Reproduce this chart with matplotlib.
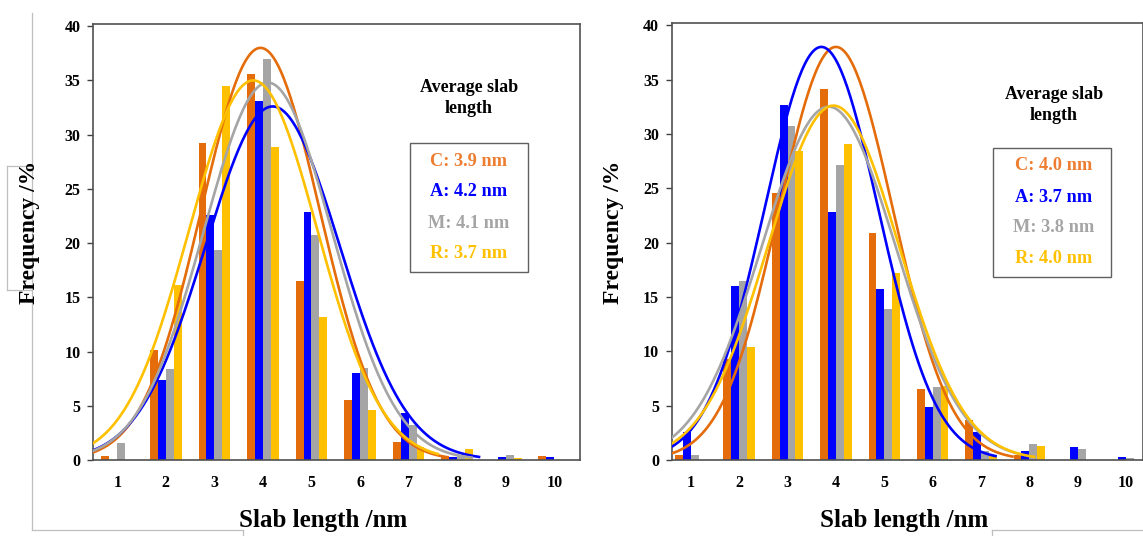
import numpy as np
import matplotlib
matplotlib.use("Agg")
import matplotlib.pyplot as plt
from matplotlib.lines import Line2D

plt.rcParams['font.family'] = ['Liberation Serif', 'DejaVu Serif']
plt.rcParams['font.weight'] = 'bold'

# slab length classes (nm)
classes = [1, 2, 3, 4, 5, 6, 7, 8, 9, 10]
series = ["C", "A", "M", "R"]

# left panel, frequency in %
left_C = [0.4, 10.1, 29.2, 35.6, 16.5, 5.5, 1.7, 0.4, 0.0, 0.4]
left_A = [0.0, 7.4, 22.6, 33.1, 22.9, 8.0, 4.3, 0.3, 0.3, 0.3]
left_M = [1.6, 8.4, 19.4, 37.0, 20.7, 8.5, 3.2, 0.5, 0.5, 0.0]
left_R = [0.0, 16.1, 34.5, 28.9, 13.2, 4.6, 1.2, 1.0, 0.2, 0.0]

# right panel, frequency in %
right_C = [0.45, 9.3, 24.6, 34.1, 20.9, 6.5, 3.7, 0.5, 0.0, 0.0]
right_A = [2.6, 16.0, 32.7, 22.8, 15.7, 4.9, 2.6, 0.8, 1.2, 0.3]
right_M = [0.45, 16.5, 30.7, 27.1, 13.9, 6.7, 0.8, 1.5, 1.0, 0.2]
right_R = [0.0, 10.4, 28.4, 29.1, 17.2, 6.8, 0.5, 1.3, 0.0, 0.0]

# gaussian fit curves: peak height, centre, width, end of drawn range
left_peak = [38.0, 32.6, 34.8, 35.0]
left_mu = [3.95, 4.2, 4.1, 3.8]
left_sd = [1.22, 1.38, 1.32, 1.32]
left_end = [7.8, 8.45, 8.3, 7.6]

right_peak = [38.0, 38.0, 32.5, 32.6]
right_mu = [4.0, 3.7, 3.85, 3.95]
right_sd = [1.18, 1.18, 1.38, 1.35]
right_end = [7.65, 7.3, 7.8, 8.1]

left_avg = ["3.9", "4.2", "4.1", "3.7"]
right_avg = ["4.0", "3.7", "3.8", "4.0"]

bar_colors = ["#E46C0A", "#0000FF", "#A5A5A5", "#FFC000"]
text_colors = ["#ED7D31", "#0000FF", "#A5A5A5", "#FFC000"]

W, H = 1143, 536
fig = plt.figure(figsize=(W / 100, H / 100), dpi=100)


def px_axes(x0, x1, y0, y1):
    return fig.add_axes([x0 / W, 1 - y1 / H, (x1 - x0) / W, (y1 - y0) / H])


def panel(ax, data, peak, mu, sd, end, xlim, avg, box_x, title_y, box_y):
    x = np.array(classes, dtype=float)
    w = 0.163
    for i, vals in enumerate(data):
        ax.bar(x + (i - 1.5) * w, vals, width=w, color=bar_colors[i], zorder=2)
    for i in range(4):
        xs = np.linspace(xlim[0], end[i], 200)
        ys = peak[i] * np.exp(-(xs - mu[i]) ** 2 / (2 * sd[i] ** 2))
        ax.plot(xs, ys, color=bar_colors[i], lw=1.9, zorder=3)
    ax.set_xlim(*xlim)
    ax.set_ylim(0, 40.2)
    ax.set_xticks(classes)
    ax.set_yticks(range(0, 41, 5))
    ax.tick_params(axis='x', length=0, pad=11, labelsize=11.5)
    ax.tick_params(axis='y', length=4, width=1, pad=5, labelsize=11.5,
                   color='#404040')
    for s in ax.spines.values():
        s.set_color('#505050')
        s.set_linewidth(1.2)
    for lab in ax.get_xticklabels() + ax.get_yticklabels():
        lab.set_fontweight('bold')

    # annotation box
    fig.text(box_x / W, 1 - title_y / H, "Average slab\nlength", ha='center',
             va='center', fontsize=13, fontweight='bold',
             linespacing=1.25)
    bx0, bx1, by0, by1 = box_y
    fig.add_artist(plt.Rectangle((bx0 / W, 1 - by1 / H), (bx1 - bx0) / W,
                                 (by1 - by0) / H, fill=False,
                                 ec='#606060', lw=1.0))
    for i in range(4):
        fig.text(box_x / W, 1 - (by0 + 18 + i * 31) / H,
                 series[i] + ": " + avg[i] + " nm", ha='center', va='center',
                 fontsize=13.2, fontweight='bold', color=text_colors[i])


ax1 = px_axes(93, 580, 24, 460)
panel(ax1, [left_C, left_A, left_M, left_R], left_peak, left_mu, left_sd,
      left_end, (0.5, 10.53), left_avg, 469, 98, (410, 528, 143, 272))

ax2 = px_axes(671.5, 1142.5, 23, 460)
panel(ax2, [right_C, right_A, right_M, right_R], right_peak, right_mu, right_sd,
      right_end, (0.6, 10.34), right_avg, 1054, 105, (993, 1111, 148, 277))

for cx in (30, 613):
    fig.text(cx / W, 1 - 232 / H, "Frequency /%", rotation=90, ha='center',
             va='center', fontsize=17, fontweight='bold')
for cx in (323, 904):
    fig.text(cx / W, 1 - 521 / H, "Slab length /nm", ha='center',
             va='center', fontsize=18, fontweight='bold')

# thin frame remnants around the figure
frame = '#BFBFBF'
segs = [((32, 32), (13, 530)), ((32, 243), (530, 530)), ((243, 243), (530, 536)),
        ((7, 7), (166, 290)), ((7, 32), (166, 166)), ((7, 32), (290, 290)),
        ((992, 1143), (530, 530)), ((992, 992), (530, 536))]
for xs, ys in segs:
    fig.add_artist(Line2D([v / W for v in xs], [1 - v / H for v in ys],
                          color=frame, lw=0.9))

fig.savefig("out.png", dpi=100)
